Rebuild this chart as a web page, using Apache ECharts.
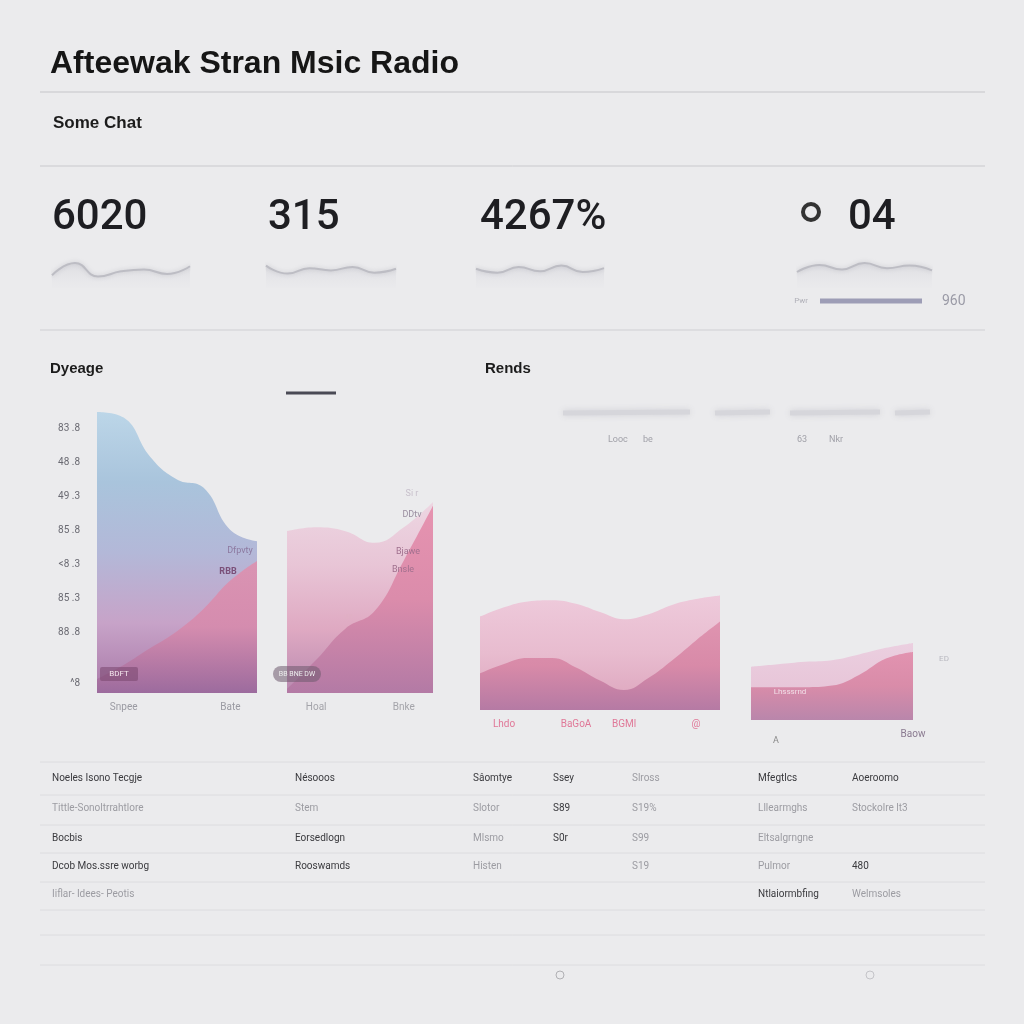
<!DOCTYPE html>
<html><head><meta charset="utf-8">
<script src="https://cdn.jsdelivr.net/npm/echarts@6/dist/echarts.min.js"></script>
<style>html,body{margin:0;padding:0;background:#ebebed;}#c{width:1024px;height:1024px;}</style>
</head><body><div id="c"></div>
<script>
// ---- data ----
const titleText = 'Afteewak Stran Msic Radio';
const subTitle = 'Some Chat';
const kpiValues = ['6020', '315', '4267%', '04'];
const kpiSpark1 = [40, 78, 36, 52, 58, 44, 68];
const kpiSpark2 = [70, 45, 62, 55, 66, 48, 60];
const kpiSpark3 = [60, 48, 66, 52, 70, 50, 62];
const kpiSpark4 = [50, 72, 58, 78, 62, 70, 55];
const pwrLabel = ['Pwr'];
const pwrValue = [960];
const leftTitle = 'Dyeage';
const rightTitle = 'Rends';
const yTickValues = [0, 3, 5, 7, 9, 11, 13, 15];
const yTickLabels = ['^8', '88 .8', '85 .3', '<8 .3', '85 .8', '49 .3', '48 .8', '83 .8'];
const p1Labels = ['', 'Snpee', '', '', '', 'Bate', ''];
const p1Outer = [100, 98, 84, 76, 73, 58, 54];
const p1Inner = [5, 10, 16, 22, 30, 40, 47];
const p2Labels = ['', 'Hoal', '', '', 'Bnke', ''];
const p2Outer = [83, 85, 83, 77, 85, 98];
const p2Inner = [2, 17, 33, 42, 68, 96];
const p3Labels = ['', 'Lhdo', '', '', 'BaGoA', '', 'BGMl', '', '', '@', ''];
const p3Outer = [79, 87, 92, 93, 90, 83, 77, 81, 89, 94, 97];
const p3Inner = [31, 39, 44, 44, 36, 25, 17, 27, 42, 59, 75];
const p4Labels = ['', '', '', '', '', '', 'Baow'];
const p4Outer = [65, 68, 71, 73, 80, 88, 94];
const p4Inner = [40, 40, 40, 42, 55, 75, 83];
const legendLabels = ['Looc', 'be', '63', 'Nkr'];
const tableRows = [
  ['Noeles Isono Tecgje', 'Nésooos', 'Sâomtye', 'Ssey', 'Slross', 'Mfegtlcs', 'Aoeroomo'],
  ['Tittle-Sonoltrrahtlore', 'Stem', 'Slotor', 'S89', 'S19%', 'Lllearmghs', 'Stockolre lt3'],
  ['Bocbis', 'Eorsedlogn', 'Mlsmo', 'S0r', 'S99', 'Eltsalgrngne', ''],
  ['Dcob Mos.ssre worbg', 'Rooswamds', 'Histen', '', 'S19', 'Pulmor', '480'],
  ['Iiflar- Idees- Peotis', '', '', '', '', 'Ntlaiormbfing', 'Welmsoles']
];

// ---- styles / layout ----
const tableMuted = [
  [0,0,0,0,1,0,0],
  [1,1,1,0,1,1,1],
  [0,0,1,0,1,1,1],
  [0,0,1,1,1,1,0],
  [1,1,1,1,1,0,1]
];
const colX = [52, 295, 473, 553, 632, 758, 852];
const rowY = [778, 808, 838, 866, 894];
const tableLines = [762, 795, 825, 853, 882, 910, 935, 965];
const FONT = 'Roboto, "Liberation Sans", Arial, sans-serif';
const TFONT = '"Liberation Sans", Arial, sans-serif';
const G = (stops) => new echarts.graphic.LinearGradient(0, 0, 0, 1, stops.map((c, i) => ({offset: i / (stops.length - 1), color: c})));

const chart = echarts.init(document.getElementById('c'), null, {renderer: 'canvas'});

const graphics = [];
function txt(x, y, s, size, color, weight, align, fam) {
  graphics.push({type: 'text', x: x, y: y, z: 50, style: {text: s, fontSize: size, fill: color, fontWeight: weight || 'normal', fontFamily: fam || FONT, textAlign: align || 'left', textVerticalAlign: 'middle'}});
}
function hline(y, x1, x2, color, w) {
  graphics.push({type: 'line', z: 50, shape: {x1: x1, y1: y, x2: x2, y2: y}, style: {stroke: color, lineWidth: w || 1}});
}
txt(50, 64, titleText, 32, '#161616', 'bold', 'left', TFONT);
hline(92, 40, 985, '#c6c6ca', 1.2);
txt(53, 123, subTitle, 17, '#1c1c1c', 'bold', 'left', TFONT);
hline(166, 40, 985, '#c9c9cd', 1);
const kpiX = [52, 268, 480, 848];
kpiValues.forEach((v, i) => txt(kpiX[i], 218, v, 42, '#1e1e22', '500'));
graphics.push({type: 'circle', z: 50, shape: {cx: 811, cy: 212, r: 8}, style: {fill: 'none', stroke: '#333', lineWidth: 4}});
hline(330, 40, 985, '#cfcfd3', 1);
txt(50, 369, leftTitle, 15, '#1c1c1c', 'bold', 'left', TFONT);
txt(485, 369, rightTitle, 15, '#1c1c1c', 'bold', 'left', TFONT);
hline(393, 286, 336, '#4a4a55', 3);
// faint legend strokes
[[563, 690], [715, 770], [790, 880], [895, 930]].forEach(s => graphics.push({type: 'line', z: 50, shape: {x1: s[0], y1: 413, x2: s[1], y2: 412}, style: {stroke: '#d6d6db', lineWidth: 5, shadowBlur: 6, shadowColor: '#d0d0d6'}}));
const legX = [608, 643, 797, 829];
legendLabels.forEach((s, i) => txt(legX[i], 440, s, 9, '#a0a0a8'));
// inner chart annotations
txt(240, 551, 'Dfpvty', 9, '#8d7aa0', 'normal', 'center');
txt(228, 572, 'RBB', 9, '#7a4f78', 'bold', 'center');
graphics.push({type: 'rect', z: 50, shape: {x: 100, y: 667, width: 38, height: 14, r: 2}, style: {fill: 'rgba(120,70,110,0.55)'}});
txt(119, 674, 'BDFT', 8, '#f4e6ee', 'normal', 'center');
txt(412, 494, 'Si r', 9, '#c8c0cc', 'normal', 'center');
txt(412, 515, 'DDtv', 9, '#9a8ea0', 'normal', 'center');
txt(408, 552, 'Bjawe', 9, '#a0708e', 'normal', 'center');
txt(403, 570, 'Bnsle', 9, '#a0708e', 'normal', 'center');
txt(348, 617, 'dlt', 8, '#e0b0c4', 'normal', 'center');
graphics.push({type: 'rect', z: 50, shape: {x: 273, y: 666, width: 48, height: 16, r: 8}, style: {fill: 'rgba(110,90,110,0.55)'}});
txt(297, 674, 'BB BNE DW', 7, '#eee', 'normal', 'center');
txt(790, 692, 'Lhsssrnd', 8, '#f2dfe8', 'normal', 'center');
txt(944, 659, 'ED', 8, '#b8b8c0', 'normal', 'center');
txt(776, 741, 'A', 9, '#888', 'normal', 'center');
// table
tableLines.forEach(y => hline(y, 40, 985, '#dcdcdf', 1));
tableRows.forEach((r, ri) => r.forEach((s, ci) => {
  if (s) txt(colX[ci], rowY[ri], s, 10, tableMuted[ri][ci] ? '#9c9ca2' : '#3a3a3e');
}));
graphics.push({type: 'circle', z: 50, shape: {cx: 560, cy: 975, r: 4}, style: {fill: 'none', stroke: '#b0b0b4', lineWidth: 1}});
graphics.push({type: 'circle', z: 50, shape: {cx: 870, cy: 975, r: 4}, style: {fill: 'none', stroke: '#c4c4c8', lineWidth: 1}});

// ---- grids ----
const grids = [
  {left: 97, top: 412, width: 160, height: 281},
  {left: 287, top: 498, width: 146, height: 195},
  {left: 480, top: 592, width: 240, height: 118},
  {left: 751, top: 638, width: 162, height: 82},
  {left: 86, top: 428, width: 4, height: 255},
  {left: 52, top: 256, width: 138, height: 32},
  {left: 266, top: 256, width: 130, height: 32},
  {left: 476, top: 256, width: 128, height: 32},
  {left: 797, top: 256, width: 135, height: 32},
  {left: 820, top: 297, width: 102, height: 8}
];
const labelSets = [p1Labels, p2Labels, p3Labels, p4Labels];
const labelColors = ['#9a9aa2', '#a4a4aa', '#e07898', '#8a7a90'];
const xAxes = [], yAxes = [], series = [];
labelSets.forEach((lab, gi) => {
  xAxes.push({gridIndex: gi, type: 'category', boundaryGap: false, data: lab.map((_, i) => String(i)),
    axisLine: {show: false}, axisTick: {show: false}, splitLine: {show: false},
    axisLabel: {interval: 0, margin: 9, color: labelColors[gi], fontSize: 10, fontFamily: FONT, formatter: (v, i) => lab[i]}});
  yAxes.push({gridIndex: gi, type: 'value', min: 0, max: 100, show: false});
});
// y-label axis (grid 4)
xAxes.push({gridIndex: 4, type: 'value', min: 0, max: 1, show: false});
yAxes.push({gridIndex: 4, type: 'value', min: 0, max: 15, interval: 1, position: 'left',
  axisLine: {show: false}, axisTick: {show: false}, splitLine: {show: false},
  axisLabel: {color: '#6a6a72', fontSize: 10, fontFamily: FONT, margin: 6,
    formatter: v => { const k = yTickValues.indexOf(v); return k >= 0 ? yTickLabels[k] : ''; }}});
// sparkline grids 5..8
[kpiSpark1, kpiSpark2, kpiSpark3, kpiSpark4].forEach((d, k) => {
  const gi = 5 + k;
  xAxes.push({gridIndex: gi, type: 'category', boundaryGap: false, data: d.map((_, i) => String(i)), show: false});
  yAxes.push({gridIndex: gi, type: 'value', min: 0, max: 100, show: false});
  series.push({type: 'line', xAxisIndex: xAxes.length - 1, yAxisIndex: yAxes.length - 1, data: d, smooth: true, symbol: 'none',
    lineStyle: {color: '#bdbdc4', width: 2, shadowBlur: 4, shadowColor: 'rgba(150,150,160,0.4)'},
    areaStyle: {color: G(['rgba(200,200,208,0.6)', 'rgba(225,225,230,0.15)'])}});
});
// pwr bar grid 9
xAxes.push({gridIndex: 9, type: 'value', min: 0, max: 960, show: false});
yAxes.push({gridIndex: 9, type: 'category', data: pwrLabel, axisLine: {show: false}, axisTick: {show: false},
  axisLabel: {color: '#b0b0b8', fontSize: 8, margin: 12, fontFamily: FONT}});
series.push({type: 'bar', xAxisIndex: xAxes.length - 1, yAxisIndex: yAxes.length - 1, data: pwrValue, barWidth: 5,
  itemStyle: {color: '#9d9db6'}, label: {show: true, position: 'right', distance: 20, color: '#9a9aa6', fontSize: 14, fontFamily: FONT}});

function area(gi, data, grad, z) {
  series.push({type: 'line', xAxisIndex: gi, yAxisIndex: gi, data: data, smooth: 0.45, symbol: 'none', z: z,
    lineStyle: {width: 0}, areaStyle: {color: grad, opacity: 1}});
}
area(0, p1Outer, G(['#bcd6e8', '#a9c4dc', '#b3b8d8', '#c7a3c8', '#a979a8']), 2);
area(0, p1Inner, G(['rgba(226,140,170,0.8)', 'rgba(214,138,172,0.9)', '#9c6b9e']), 3);
area(1, p2Outer, G(['#edd6e2', '#e8c5d6', '#dfa9c2', '#b889b0']), 2);
area(1, p2Inner, G(['#e693b0', '#db8cab', '#b37aa5']), 3);
area(2, p3Outer, G(['#eecadb', '#e8bccf', '#dca3bc']), 2);
area(2, p3Inner, G(['#df94b0', '#d88aa8', '#b57aa4']), 3);
area(3, p4Outer, G(['#ebcfe0', '#e5bfd3']), 2);
area(3, p4Inner, G(['#e293b0', '#d98ca9', '#b986ab']), 3);

chart.setOption({
  animation: false,
  backgroundColor: '#ebebed',
  grid: grids.map(g => Object.assign({containLabel: false}, g)),
  xAxis: xAxes,
  yAxis: yAxes,
  series: series,
  graphic: graphics
});
</script></body></html>
